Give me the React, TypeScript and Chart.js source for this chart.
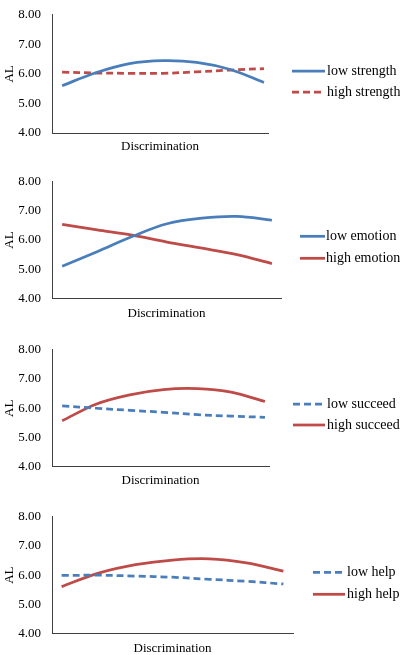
import React, { useEffect, useRef } from "react";
import { Chart, registerables } from "chart.js";

Chart.register(...registerables);

// ---- data ----
const discriminationLevels = [1, 2, 3, 4, 5, 6, 7];
const yTickValues = [4, 5, 6, 7, 8];
const yAxisTitle = "AL";
const xAxisTitle = "Discrimination";

const lowStrength = [5.6, 6.04, 6.35, 6.45, 6.39, 6.15, 5.71];
const highStrength = [6.06, 6.03, 6.02, 6.02, 6.07, 6.13, 6.18];

const lowEmotion = [5.1, 5.6, 6.12, 6.56, 6.75, 6.81, 6.68];
const highEmotion = [6.54, 6.35, 6.17, 5.93, 5.72, 5.5, 5.19];

const lowSucceed = [6.08, 6.0, 5.93, 5.86, 5.78, 5.73, 5.69];
const highSucceed = [5.57, 6.14, 6.46, 6.64, 6.67, 6.55, 6.23];

const lowHelp = [5.99, 6.0, 5.97, 5.93, 5.86, 5.79, 5.7];
const highHelp = [5.61, 6.07, 6.36, 6.52, 6.56, 6.42, 6.14];

// ---- styles ----
const BLUE = "#4a7ebb";
const RED = "#be4b48";
const AXIS = "#404040";
const FONT = "'Liberation Serif', 'Times New Roman', serif";
const DASH = [7, 4];
const LINE_W = 2.75;

type Series = { label: string; values: number[]; color: string; dashed: boolean };
type Layout = {
  top: number;
  bottom: number;
  right: number;
  padMin: number;
  padMax: number;
  legX0: number;
  legX1: number;
  legText: number;
  legY: number[];
  titleGap: number;
};
type PanelDef = { series: Series[]; layout: Layout };

const panels: PanelDef[] = [
  {
    series: [
      { label: "low strength", values: lowStrength, color: BLUE, dashed: false },
      { label: "high strength", values: highStrength, color: RED, dashed: true },
    ],
    layout: { top: 6, bottom: 133, right: 268, padMin: 0.3, padMax: 0.12, legX0: 292, legX1: 325, legText: 327, legY: [71, 92], titleGap: 14 },
  },
  {
    series: [
      { label: "low emotion", values: lowEmotion, color: BLUE, dashed: false },
      { label: "high emotion", values: highEmotion, color: RED, dashed: false },
    ],
    layout: { top: 172.7, bottom: 298, right: 281, padMin: 0.29, padMax: 0.26, legX0: 300, legX1: 325, legText: 326, legY: [236, 258], titleGap: 15 },
  },
  {
    series: [
      { label: "low succeed", values: lowSucceed, color: BLUE, dashed: true },
      { label: "high succeed", values: highSucceed, color: RED, dashed: false },
    ],
    layout: { top: 341, bottom: 466.7, right: 269, padMin: 0.3, padMax: 0.12, legX0: 293, legX1: 325, legText: 327, legY: [404, 425], titleGap: 13.5 },
  },
  {
    series: [
      { label: "low help", values: lowHelp, color: BLUE, dashed: true },
      { label: "high help", values: highHelp, color: RED, dashed: false },
    ],
    layout: { top: 507.7, bottom: 633.3, right: 293, padMin: 0.26, padMax: 0.26, legX0: 313, legX1: 345, legText: 347, legY: [572, 594], titleGap: 14.5 },
  },
];

const TITLE_LH = 13 * 1.2;
const PAD_BOTTOM = 3;

function geometry(L: Layout) {
  const canvasTop = L.top - 10;
  const xAxisH = L.titleGap + TITLE_LH / 2;
  const height = Math.ceil(L.bottom - canvasTop + xAxisH + PAD_BOTTOM);
  const padBottom = height - (L.bottom - canvasTop) - xAxisH;
  return { canvasTop, xAxisH, height, padBottom };
}

function Panel({ def }: { def: PanelDef }) {
  const ref = useRef<HTMLCanvasElement>(null);
  const L = def.layout;
  const g = geometry(L);

  useEffect(() => {
    if (!ref.current) return;
    const legendPlugin = {
      id: "sideLegend",
      afterDraw(chart: any) {
        const ctx = chart.ctx as CanvasRenderingContext2D;
        ctx.save();
        def.series.forEach((s, i) => {
          const y = L.legY[i] - g.canvasTop;
          ctx.beginPath();
          ctx.strokeStyle = s.color;
          ctx.lineWidth = LINE_W;
          ctx.setLineDash(s.dashed ? DASH : []);
          ctx.moveTo(L.legX0, y);
          ctx.lineTo(L.legX1, y);
          ctx.stroke();
          ctx.setLineDash([]);
          ctx.fillStyle = "#000";
          ctx.font = `14px ${FONT}`;
          ctx.textBaseline = "middle";
          ctx.textAlign = "left";
          ctx.fillText(s.label, L.legText, y);
        });
        ctx.restore();
      },
    };

    const chart = new Chart(ref.current, {
      type: "line",
      data: {
        datasets: def.series.map((s) => ({
          label: s.label,
          data: discriminationLevels.map((x, i) => ({ x, y: s.values[i] })),
          borderColor: s.color,
          backgroundColor: s.color,
          borderWidth: LINE_W,
          borderDash: s.dashed ? DASH : [],
          pointRadius: 0,
          tension: 0.35,
          fill: false,
        })),
      },
      options: {
        animation: false,
        responsive: false,
        events: [],
        layout: {
          padding: { top: 10, left: 0, right: 400 - L.right, bottom: g.padBottom },
        },
        plugins: {
          legend: { display: false },
          tooltip: { enabled: false },
          title: { display: false },
        },
        scales: {
          x: {
            type: "linear",
            min: discriminationLevels[0] - L.padMin,
            max: discriminationLevels[discriminationLevels.length - 1] + L.padMax,
            grid: { display: false, drawTicks: false },
            border: { display: true, color: AXIS, width: 1 },
            ticks: { display: false },
            title: {
              display: true,
              text: xAxisTitle,
              color: "#000",
              font: { family: FONT, size: 13, lineHeight: 1.2 },
              padding: { top: 0, bottom: 0 },
            },
            afterFit(scale: any) {
              scale.height = g.xAxisH;
            },
          },
          y: {
            type: "linear",
            min: yTickValues[0],
            max: yTickValues[yTickValues.length - 1],
            afterBuildTicks(scale: any) {
              scale.ticks = yTickValues.map((v) => ({ value: v }));
            },
            grid: { display: false, drawTicks: false },
            border: { display: true, color: AXIS, width: 1 },
            ticks: {
              color: "#000",
              padding: 11,
              font: { family: FONT, size: 13, lineHeight: 1.2 },
              callback: (v: any) => Number(v).toFixed(2),
            },
            title: {
              display: true,
              text: yAxisTitle,
              color: "#000",
              font: { family: FONT, size: 13, lineHeight: 1.2 },
              padding: { top: 2, bottom: 0 },
            },
            afterFit(scale: any) {
              scale.width = 52;
            },
          },
        },
      },
      plugins: [legendPlugin],
    } as any);
    return () => chart.destroy();
  }, []);

  return (
    <canvas
      ref={ref}
      width={400}
      height={g.height}
      style={{ position: "absolute", left: 0, top: g.canvasTop, width: 400, height: g.height }}
    />
  );
}

export default function App() {
  return (
    <div style={{ position: "absolute", left: 0, top: 0, width: 400, height: 655, background: "#fff", overflow: "hidden" }}>
      {panels.map((p, i) => (
        <Panel key={i} def={p} />
      ))}
    </div>
  );
}
